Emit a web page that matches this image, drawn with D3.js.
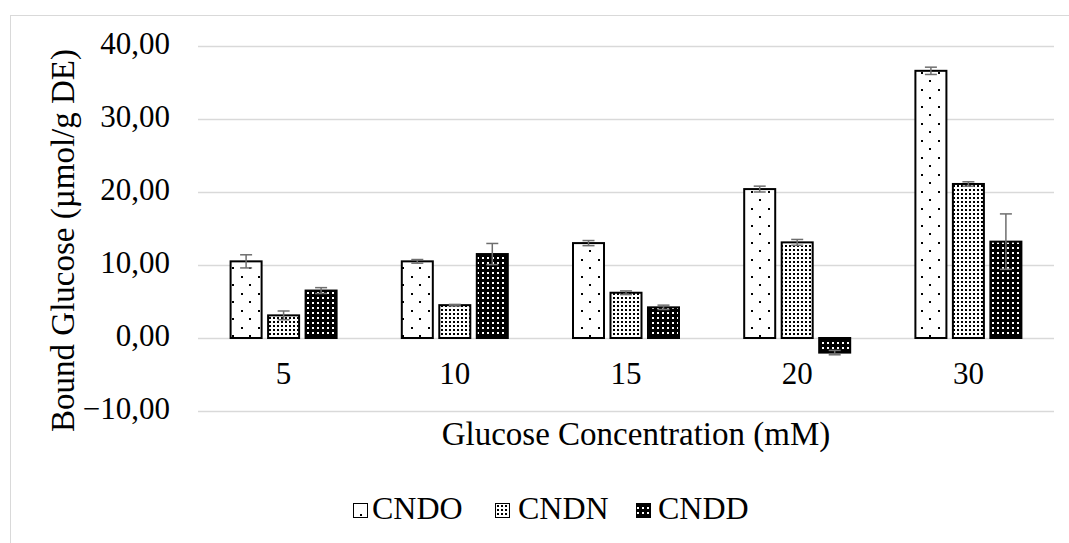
<!DOCTYPE html>
<html>
<head>
<meta charset="utf-8">
<script src="https://cdn.jsdelivr.net/npm/d3@7"></script>
<style>
  html, body { margin: 0; padding: 0; background: #fff; }
  svg { display: block; }
  text { font-family: "Liberation Serif", "Times New Roman", serif; fill: #000; }
</style>
</head>
<body>
<svg id="chart" width="1069" height="543"></svg>
<script>
const categories = ["5", "10", "15", "20", "30"];
const seriesNames = ["CNDO", "CNDN", "CNDD"];
const cndoValues = [10.5, 10.5, 13.0, 20.4, 36.6];
const cndnValues = [3.1, 4.5, 6.2, 13.1, 21.1];
const cnddValues = [6.5, 11.5, 4.2, -2.0, 13.2];
const cndoErrors = [0.9, 0.25, 0.35, 0.4, 0.5];
const cndnErrors = [0.6, 0.1, 0.25, 0.4, 0.3];
const cnddErrors = [0.4, 1.45, 0.3, 0.3, 3.8];
const yTicks = [-10, 0, 10, 20, 30, 40];
const xTitle = "Glucose Concentration (mM)";
const yTitle = "Bound Glucose (µmol/g DE)";

const seriesValues = [cndoValues, cndnValues, cnddValues];
const seriesErrors = [cndoErrors, cndnErrors, cnddErrors];
const patternIds = ["pat-cndo", "pat-cndn", "pat-cndd"];

const svg = d3.select("#chart");

// outer chart border
svg.append("rect")
  .attr("x", 10.5).attr("y", 15.5)
  .attr("width", 1100).attr("height", 600)
  .attr("fill", "none").attr("stroke", "#d9d9d9").attr("stroke-width", 1);

// patterns
const defs = svg.append("defs");
// CNDO: sparse dots
const p1 = defs.append("pattern").attr("id", "pat-cndo")
  .attr("patternUnits", "userSpaceOnUse").attr("width", 17).attr("height", 17);
p1.append("rect").attr("width", 17).attr("height", 17).attr("fill", "#fff");
p1.append("rect").attr("x", 3).attr("y", 4).attr("width", 2).attr("height", 2).attr("fill", "#000");
p1.append("rect").attr("x", 11).attr("y", 12).attr("width", 2).attr("height", 2).attr("fill", "#000");
// CNDN: dense dots
const p2 = defs.append("pattern").attr("id", "pat-cndn")
  .attr("patternUnits", "userSpaceOnUse").attr("width", 4).attr("height", 4);
p2.append("rect").attr("width", 4).attr("height", 4).attr("fill", "#fff");
p2.append("rect").attr("x", 1).attr("y", 1).attr("width", 2).attr("height", 2).attr("fill", "#000");
// CNDD: black with white dots
const p3 = defs.append("pattern").attr("id", "pat-cndd")
  .attr("patternUnits", "userSpaceOnUse").attr("width", 5).attr("height", 5);
p3.append("rect").attr("width", 5).attr("height", 5).attr("fill", "#000");
p3.append("rect").attr("x", 2).attr("y", 2).attr("width", 2).attr("height", 2).attr("fill", "#fff");

const x = d3.scaleBand().domain(categories).range([198, 1054]).padding(0);
const xInner = d3.scaleBand().domain(seriesNames).range([-53, 53]).paddingInner(0.173).paddingOuter(0);
const y = d3.scaleLinear().domain([-10, 40]).range([411, 46]);

// gridlines
svg.append("g").selectAll("line").data(yTicks).join("line")
  .attr("x1", 198).attr("x2", 1054)
  .attr("y1", d => Math.round(y(d)) + 0.5).attr("y2", d => Math.round(y(d)) + 0.5)
  .attr("stroke", "#d9d9d9").attr("stroke-width", 1.5);

// y tick labels
svg.append("g").selectAll("text").data(yTicks).join("text")
  .attr("x", 170).attr("y", d => y(d) + 8)
  .attr("text-anchor", "end").attr("font-size", 31)
  .text(d => d3.format(".2f")(d).replace(".", ","));

// x tick labels
svg.append("g").selectAll("text").data(categories).join("text")
  .attr("x", d => x(d) + x.bandwidth() / 2).attr("y", 384)
  .attr("text-anchor", "middle").attr("font-size", 31)
  .text(d => d);

// bars
const barData = [];
seriesNames.forEach((s, si) => {
  categories.forEach((c, ci) => {
    barData.push({ s, si, c, v: seriesValues[si][ci], e: seriesErrors[si][ci] });
  });
});

svg.append("g").selectAll("rect").data(barData).join("rect")
  .attr("x", d => x(d.c) + x.bandwidth() / 2 + xInner(d.s))
  .attr("width", xInner.bandwidth())
  .attr("y", d => Math.min(y(d.v), y(0)))
  .attr("height", d => Math.abs(y(d.v) - y(0)))
  .attr("fill", d => `url(#${patternIds[d.si]})`)
  .attr("stroke", "#000").attr("stroke-width", 2);

// error bars
const eg = svg.append("g").attr("stroke", "#6e6e6e").attr("stroke-width", 1.5);
barData.forEach(d => {
  const cx = x(d.c) + x.bandwidth() / 2 + xInner(d.s) + xInner.bandwidth() / 2;
  const y1 = y(d.v + d.e), y2 = y(d.v - d.e);
  eg.append("line").attr("x1", cx).attr("x2", cx).attr("y1", y1).attr("y2", y2);
  eg.append("line").attr("x1", cx - 6).attr("x2", cx + 6).attr("y1", y1).attr("y2", y1);
  eg.append("line").attr("x1", cx - 6).attr("x2", cx + 6).attr("y1", y2).attr("y2", y2);
});

// axis titles
svg.append("text").attr("x", 636).attr("y", 445)
  .attr("text-anchor", "middle").attr("font-size", 33).text(xTitle);
svg.append("text").attr("transform", "translate(74,240.5) rotate(-90)")
  .attr("text-anchor", "middle").attr("font-size", 33).text(yTitle);

// legend
const legendX = [353, 495, 636];
const legendTextX = [372, 518, 658];
const lg = svg.append("g");
seriesNames.forEach((s, i) => {
  lg.append("rect").attr("x", legendX[i] + 0.5).attr("y", 503.5).attr("width", 14).attr("height", 14)
    .attr("fill", `url(#${patternIds[i]})`).attr("stroke", "#000").attr("stroke-width", 1);
  lg.append("text").attr("x", legendTextX[i]).attr("y", 519).attr("font-size", 32).text(s);
});
</script>
</body>
</html>
